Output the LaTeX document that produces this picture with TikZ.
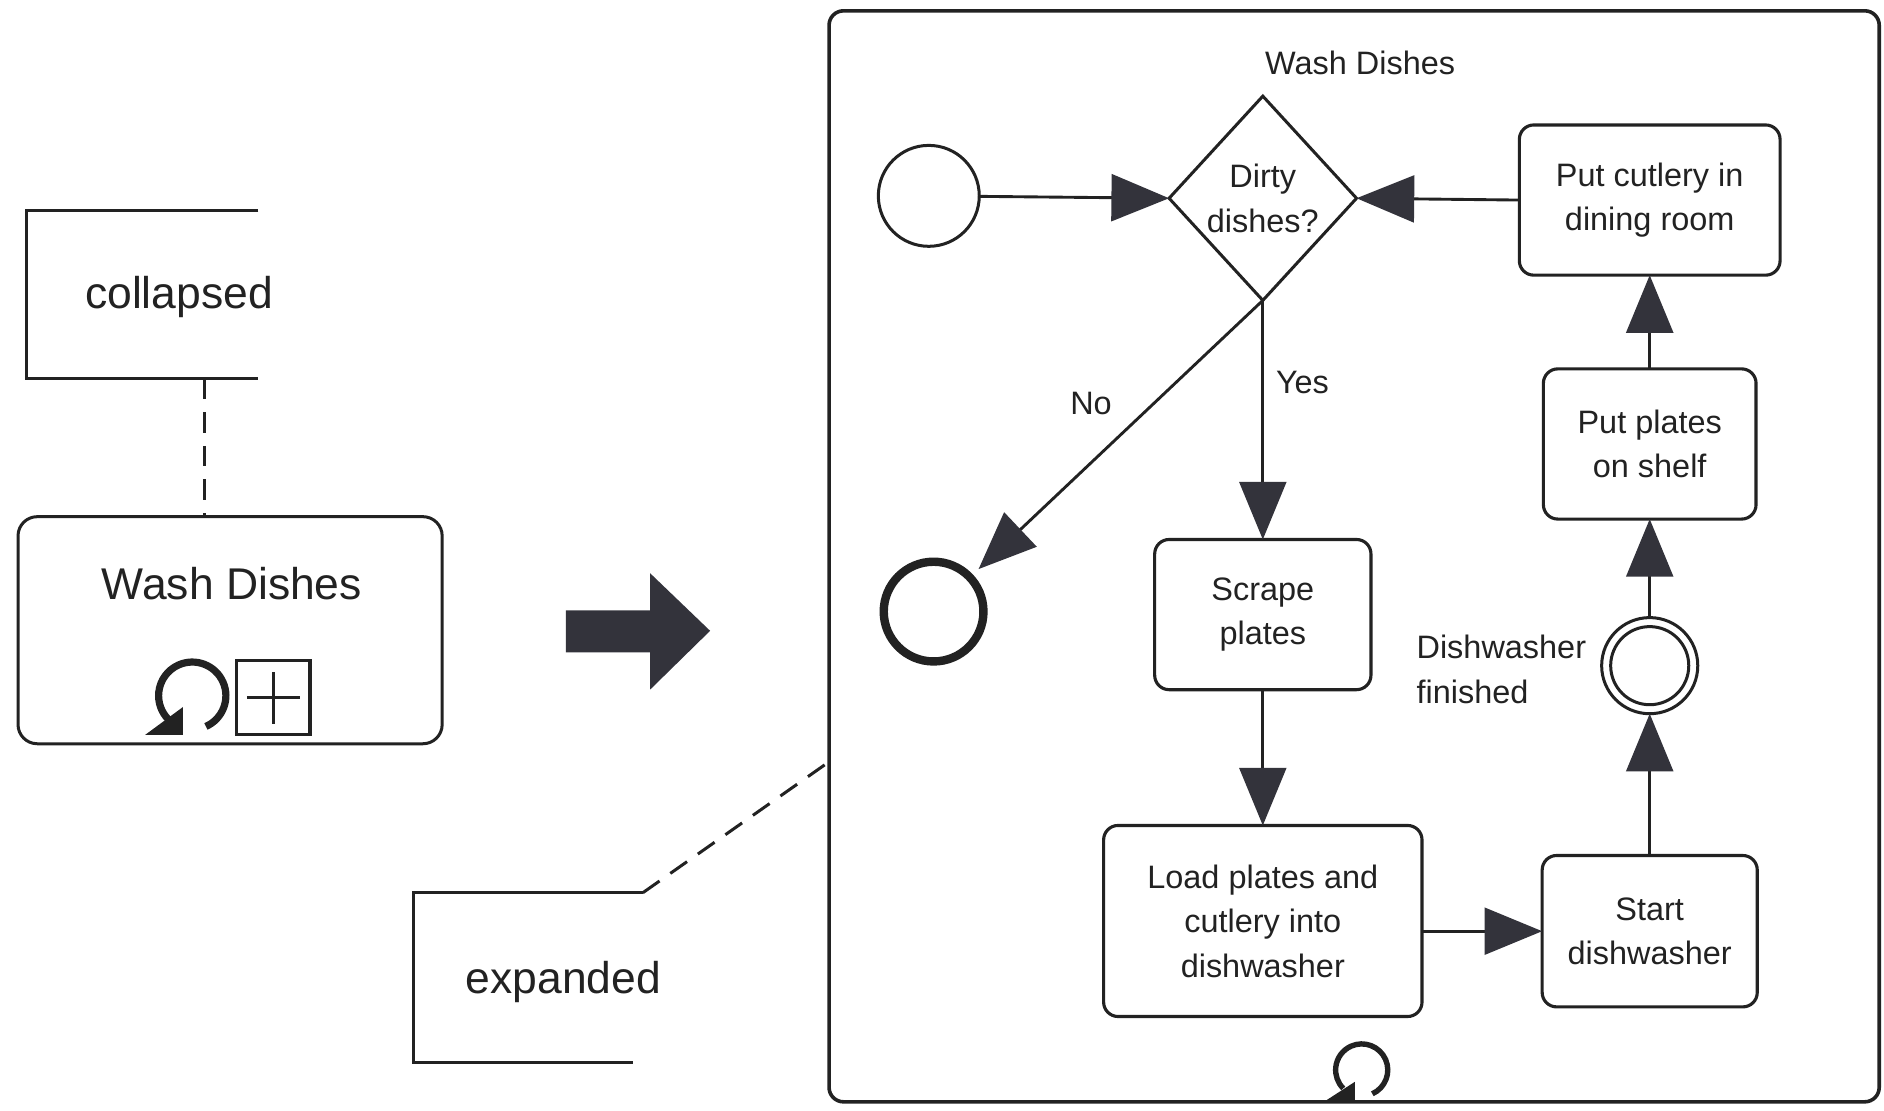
\documentclass[tikz,border=0pt]{standalone}
\usepackage{fontspec}
\setmainfont{Liberation Sans}
\usetikzlibrary{arrows.meta,shapes.geometric}

\definecolor{ink}{HTML}{222222}
\definecolor{tipgray}{HTML}{33333B}

\begin{document}
\begin{tikzpicture}[x=1pt,y=-1pt,
  every node/.style={inner sep=0pt, outer sep=0pt, text=ink},
  flowtext/.style={font=\fontsize{27}{37}\selectfont, align=center},
  bigtext/.style={font=\fontsize{37}{44}\selectfont},
  task/.style={draw=ink, line width=2.6pt, rounded corners=12pt, flowtext},
  event/.style={draw=ink, circle, line width=2.5pt},
  flow/.style={draw=ink, line width=2.4pt,
    -{Triangle[length=48pt,width=39pt,color=tipgray]}},
  bracket/.style={draw=ink, line width=2.5pt},
  assoc/.style={draw=ink, line width=2.5pt, dash pattern=on 17pt off 11pt},
  loopmark/.style={draw=ink},
]
\useasboundingbox (0,0) rectangle (1568,924);

% ---------- collapsed sub-process ----------
\draw[bracket] (215,175) -- (22,175) -- (22,315) -- (215,315);
\node[bigtext] (colltag) at (149,247) {collapsed};
\coordinate (collbase) at (170,315);

\node[draw=ink, line width=2.5pt, rounded corners=16pt,
      minimum width=353pt, minimum height=189pt] (collapsed) at (191.5,524.5) {};
\node[bigtext] (colltitle) at (193,486) {Wash Dishes};
\draw[assoc] (collbase) -- (collbase |- collapsed.north);

% loop marker and collapsed marker
\draw[loopmark, line width=6pt] (160,579) ++(66:28) arc[start angle=66, end angle=-225, radius=28];
\fill[ink] (120.7,611.7) -- (152.3,611.7) -- (152.3,588.4) -- cycle;
\node[draw=ink, line width=2.5pt, minimum width=61pt, minimum height=62pt] (plusbox) at (227.5,580.5) {};
\draw[ink, line width=2.5pt] (plusbox.center) ++(-22,0) -- ++(44,0);
\draw[ink, line width=2.5pt] (plusbox.center) ++(0,-21) -- ++(0,43);

% ---------- transition arrow ----------
\fill[tipgray] (471,508) -- (541,508) -- (541,477) -- (591,525) -- (541,574)
  -- (541,543) -- (471,543) -- cycle;

% ---------- expanded sub-process ----------
\node[draw=ink, line width=3pt, rounded corners=12pt,
      minimum width=874pt, minimum height=908pt] (sub) at (1127,463) {};

\draw[bracket] (535,743) -- (344,743) -- (344,884) -- (527,884);
\node[bigtext] (exptag) at (469,817) {expanded};
\coordinate (expcorner) at (535,743);
\coordinate (assoctarget) at (690,634);
\draw[assoc] (expcorner) -- (assoctarget);

\node[flowtext] (sublabel) at (1132,52) {Wash Dishes};

\node[event, minimum size=84pt] (startev) at (773,163) {};
\node[draw=ink, circle, line width=7pt, minimum size=83pt] (endev) at (777,509) {};

\node[draw=ink, line width=2.5pt, diamond, aspect=0.918,
      minimum width=156pt, minimum height=170pt, flowtext] (dia) at (1051,165) {Dirty\\dishes?};

\node[task, minimum width=217pt, minimum height=125pt] (cutlery) at (1373,166.5) {Put cutlery in\\dining room};
\node[task, minimum width=177pt, minimum height=125pt] (plates) at (1373,369.5) {Put plates\\on shelf};
\node[task, minimum width=180pt, minimum height=125pt] (scrape) at (1051,511.5) {Scrape\\plates};
\node[task, minimum width=265pt, minimum height=159pt] (load) at (1051,766.5) {Load plates and\\cutlery into\\dishwasher};
\node[task, minimum width=179pt, minimum height=126pt] (start) at (1373,775) {Start\\dishwasher};

\node[event, minimum size=80pt] (evt) at (1373,554) {};
\node[event, minimum size=65pt] (evtinner) at (evt) {};
\node[flowtext, align=left, anchor=west] (evtlabel) at (1179,557) {Dishwasher\\finished};

\node[flowtext] (yeslabel) at (1084,318) {Yes};
\node[flowtext] (nolabel) at (908,336) {No};

% loop marker of the expanded sub-process
\draw[loopmark, line width=4.5pt] (1133.3,890.5) ++(66:21.7) arc[start angle=66, end angle=-225, radius=21.7];
\fill[ink] (1104.2,915.5) -- (1127.7,915.5) -- (1127.7,900.3) -- cycle;

% ---------- sequence flows ----------
\draw[flow] (startev) -- (dia.west);
\draw[flow] (cutlery.west) -- (dia.east);
\draw[flow] (dia.south) -- (scrape.north);
\draw[flow, shorten >=10pt] (dia.south) -- (endev);
\draw[flow] (scrape.south) -- (load.north);
\draw[flow] (start.west -| load.east) -- (start.west);
\draw[flow] (start.north) -- (evt.south);
\draw[flow] (evt.north) -- (plates.south);
\draw[flow] (plates.north) -- (cutlery.south);
\end{tikzpicture}
\end{document}
